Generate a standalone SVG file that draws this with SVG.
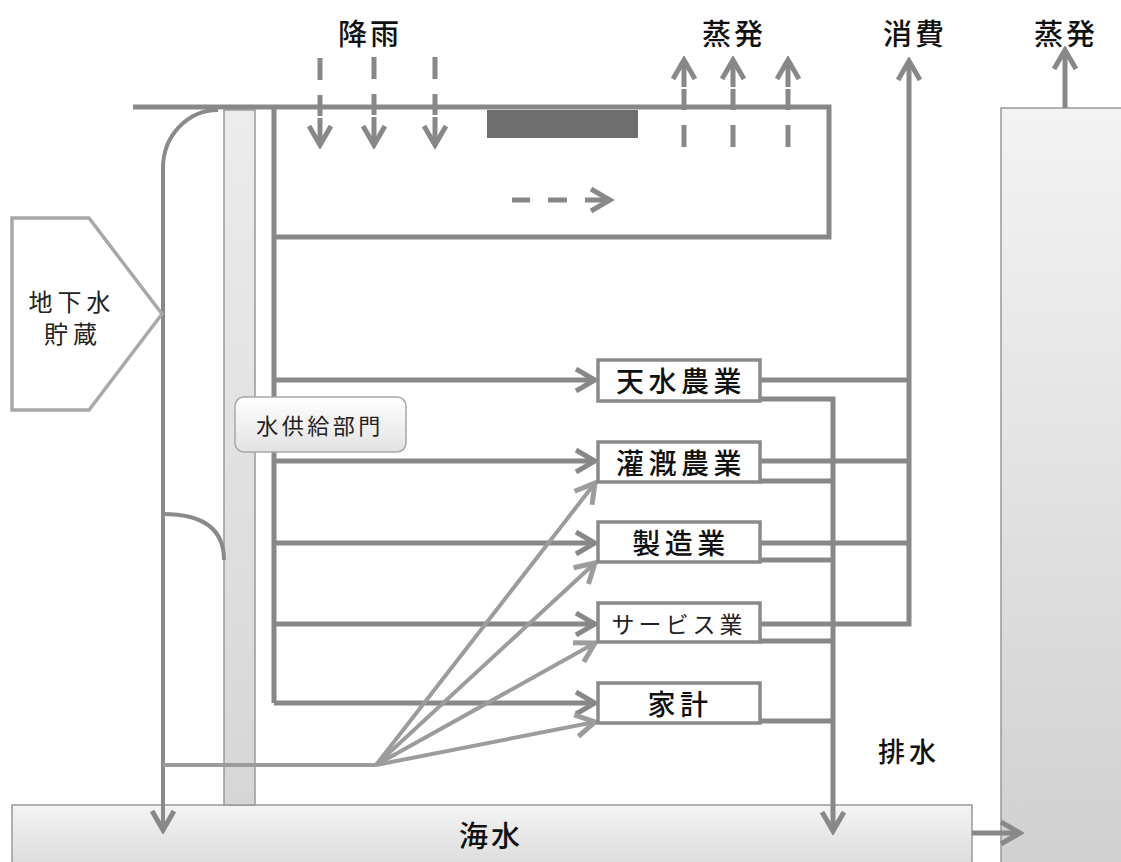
<svg xmlns="http://www.w3.org/2000/svg" width="1121" height="862" viewBox="0 0 1121 862">
<style>
.ln{fill:none;stroke:#888;stroke-width:5}
.ln4{fill:none;stroke:#8a8a8a;stroke-width:4}
.fan{fill:none;stroke:#9c9c9c;stroke-width:4}
.dash{fill:none;stroke:#888;stroke-width:5}
.box{fill:#fff;stroke:#8a8a8a;stroke-width:3.5}
.lbl{font-family:"Noto Sans CJK JP","Noto Sans",sans-serif;font-weight:500;font-size:29px;fill:#111;text-anchor:middle;dominant-baseline:central;letter-spacing:3px}
.bt{font-family:"Noto Sans CJK JP","Noto Sans",sans-serif;font-weight:500;font-size:28px;fill:#111;text-anchor:middle;dominant-baseline:central;letter-spacing:4.5px}
.thin{font-family:"Noto Sans CJK JP","Noto Sans",sans-serif;font-weight:normal;font-size:22px;fill:#222;text-anchor:middle;dominant-baseline:central}
</style>
<defs>
<linearGradient id="gSea" x1="0" y1="0" x2="0" y2="1"><stop offset="0" stop-color="#f4f4f4"/><stop offset="1" stop-color="#d8d8d8"/></linearGradient>
<linearGradient id="gRight" x1="0" y1="0" x2="0" y2="1"><stop offset="0" stop-color="#f3f3f3"/><stop offset="1" stop-color="#d0d0d0"/></linearGradient>
<linearGradient id="gBar" x1="0" y1="0" x2="0" y2="1"><stop offset="0" stop-color="#ececec"/><stop offset="1" stop-color="#d6d6d6"/></linearGradient>
<linearGradient id="gSup" x1="0" y1="0" x2="0" y2="1"><stop offset="0" stop-color="#ffffff"/><stop offset="1" stop-color="#e2e2e2"/></linearGradient>
<marker id="ah" markerUnits="userSpaceOnUse" viewBox="0 0 26 26" markerWidth="26" markerHeight="26" refX="22" refY="13" orient="auto">
<path d="M3,2 L22,13 L3,24" fill="none" stroke="#888" stroke-width="5"/>
</marker>
<marker id="ahf" markerUnits="userSpaceOnUse" viewBox="0 0 26 26" markerWidth="26" markerHeight="26" refX="22" refY="13" orient="auto">
<path d="M3,2 L22,13 L3,24" fill="none" stroke="#9c9c9c" stroke-width="5"/>
</marker>
</defs>

<g id="right-basin">
<rect x="1001" y="108" width="130" height="760" fill="url(#gRight)" stroke="#999" stroke-width="1.5"/>
</g>
<g id="sea">
<rect x="12" y="805" width="960" height="70" fill="url(#gSea)" stroke="#999" stroke-width="1.5"/>
<text class="lbl" x="491" y="834">海水</text>
</g>
<g id="bar">
<rect x="224" y="110" width="31" height="695" fill="url(#gBar)" stroke="#999" stroke-width="1.5"/>
</g>
<g id="dark-bar">
<rect x="487" y="110" width="151" height="28" fill="#6e6e6e"/>
</g>

<g id="connectors">
<path class="ln" d="M133,107 H829 V237 H274"/>
<path class="ln" d="M274,107 V703"/>
<path class="ln4" d="M218,110 A55,58 0 0 0 163,168 V830" marker-end="url(#ah)"/>
<path class="ln4" d="M163,514 Q224,514 224,560"/>
<path class="ln" d="M274,380 H595" marker-end="url(#ah)"/>
<path class="ln" d="M274,461 H595" marker-end="url(#ah)"/>
<path class="ln" d="M274,543 H595" marker-end="url(#ah)"/>
<path class="ln" d="M274,624 H595" marker-end="url(#ah)"/>
<path class="ln" d="M274,703 H595" marker-end="url(#ah)"/>
<path class="fan" d="M163,765 H376"/>
<path class="fan" d="M376,765 L595,483" marker-end="url(#ahf)"/>
<path class="fan" d="M376,765 L595,563" marker-end="url(#ahf)"/>
<path class="fan" d="M376,765 L595,643" marker-end="url(#ahf)"/>
<path class="fan" d="M376,765 L595,722" marker-end="url(#ahf)"/>
<path class="ln" d="M760,380 H909"/>
<path class="ln" d="M760,461 H909"/>
<path class="ln" d="M760,543 H909"/>
<path class="ln" d="M760,624 H909 V61" marker-end="url(#ah)"/>
<path class="ln" d="M760,399 H833 V831" marker-end="url(#ah)"/>
<path class="ln" d="M760,481 H833"/>
<path class="ln" d="M760,560 H833"/>
<path class="ln" d="M760,641 H833"/>
<path class="ln" d="M760,721 H833"/>
<path class="ln" d="M972,833 H1020" marker-end="url(#ah)"/>
<path class="ln" d="M1065,108 V50" marker-end="url(#ah)"/>
<path class="dash" d="M320,58 V80 M320,95 V116"/>
<path class="dash" d="M320,118 V145" marker-end="url(#ah)"/>
<path class="dash" d="M374,57 V79 M374,94 V115"/>
<path class="dash" d="M374,117 V145" marker-end="url(#ah)"/>
<path class="dash" d="M435,57 V79 M435,94 V115"/>
<path class="dash" d="M435,117 V145" marker-end="url(#ah)"/>
<path class="dash" d="M684,147 V125 M684,110 V89"/>
<path class="dash" d="M684,87 V60" marker-end="url(#ah)"/>
<path class="dash" d="M733,147 V125 M733,110 V89"/>
<path class="dash" d="M733,87 V60" marker-end="url(#ah)"/>
<path class="dash" d="M788,147 V125 M788,110 V89"/>
<path class="dash" d="M788,87 V60" marker-end="url(#ah)"/>
<path class="dash" d="M512,200 H530 M548,200 H567"/>
<path class="dash" d="M585,200 H610" marker-end="url(#ah)"/>
</g>

<g id="groundwater">
<polygon points="12,218 89,218 162,314 89,410 12,410" fill="#fff" stroke="#a8a8a8" stroke-width="3.5"/>
<text class="thin" x="72" y="300" style="font-size:24px;letter-spacing:5px">地下水</text>
<text class="thin" x="73" y="332" style="font-size:24px;letter-spacing:5px">貯蔵</text>
</g>

<g id="supply">
<rect x="235" y="397" width="171" height="55" rx="9" fill="url(#gSup)" stroke="#a8a8a8" stroke-width="1.5"/>
<text class="thin" x="320" y="424" style="font-size:22px;letter-spacing:3.5px">水供給部門</text>
</g>

<g id="rainfed"><rect class="box" x="598" y="360" width="162" height="41"/><text class="bt" x="681" y="380">天水農業</text></g>
<g id="irrigated"><rect class="box" x="598" y="442" width="162" height="40"/><text class="bt" x="681" y="462">灌漑農業</text></g>
<g id="manufacturing"><rect class="box" x="598" y="522" width="162" height="40"/><text class="bt" x="681" y="542">製造業</text></g>
<g id="services"><rect class="box" x="598" y="603" width="162" height="39"/><text class="thin" x="679" y="623" style="font-size:23px;letter-spacing:4px">サービス業</text></g>
<g id="household"><rect class="box" x="598" y="683" width="162" height="40"/><text class="bt" x="680" y="703">家計</text></g>

<g id="labels">
<text class="lbl" x="370" y="32">降雨</text>
<text class="lbl" x="734" y="32">蒸発</text>
<text class="lbl" x="915" y="32">消費</text>
<text class="lbl" x="1066" y="32">蒸発</text>
<text class="lbl" x="909" y="750" style="font-size:27px;letter-spacing:4px">排水</text>
</g>
</svg>
